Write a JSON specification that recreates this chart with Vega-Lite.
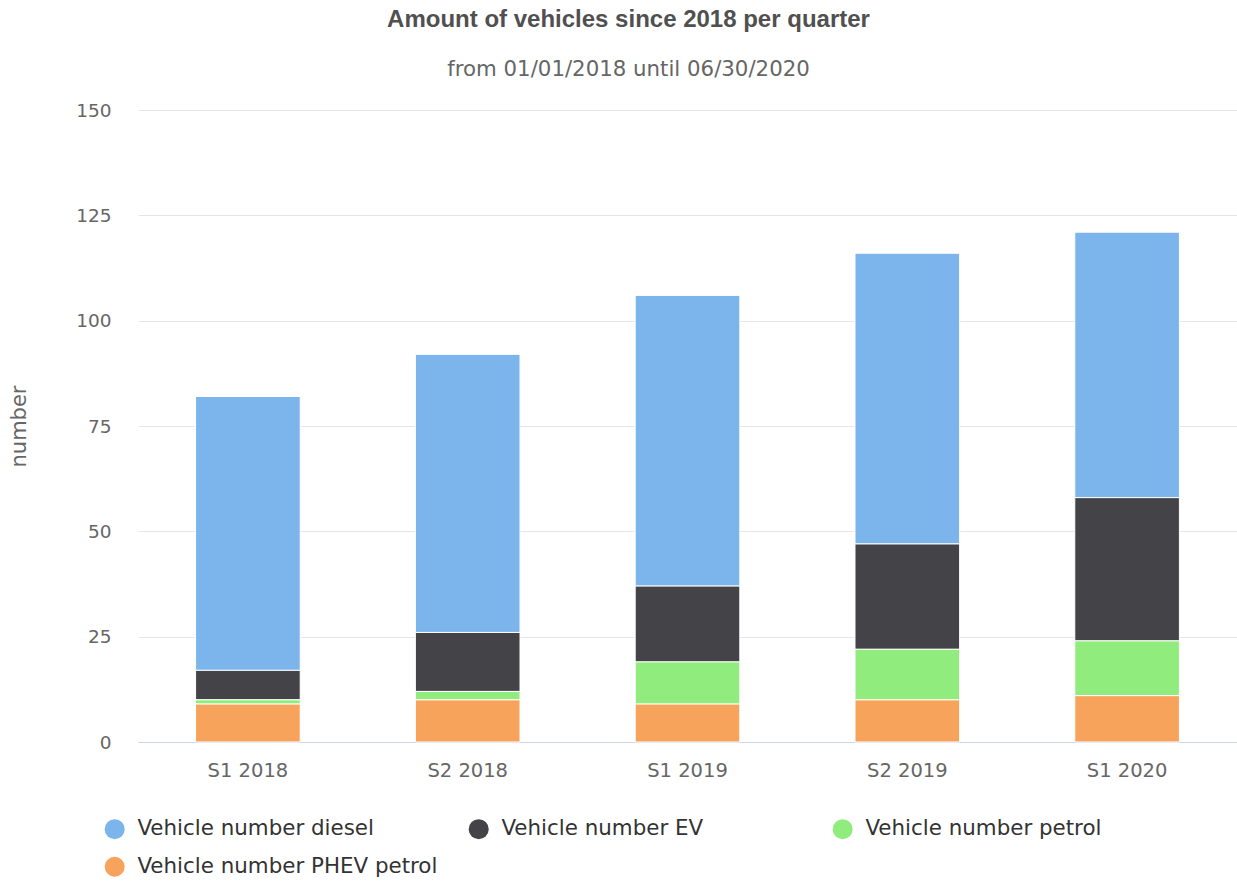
{
  "$schema": "https://vega.github.io/schema/vega-lite/v6.json",
  "width": 1099,
  "height": 632,
  "autosize": "none",
  "padding": {"left": 138, "top": 110, "right": 0, "bottom": 140},
  "background": "white",
  "title": {
    "text": "Amount of vehicles since 2018 per quarter",
    "subtitle": "from 01/01/2018 until 06/30/2020",
    "anchor": "middle",
    "frame": "group",
    "dx": -59,
    "offset": 21,
    "font": "Liberation Sans",
    "fontSize": 24,
    "fontWeight": "bold",
    "color": "#505050",
    "subtitleFont": "DejaVu Sans",
    "subtitleFontSize": 21.3,
    "subtitleColor": "#666666",
    "subtitlePadding": 27
  },
  "data": {
    "values": [
      {"period": "S1 2018", "type": "Vehicle number diesel", "value": 65},
      {"period": "S1 2018", "type": "Vehicle number EV", "value": 7},
      {"period": "S1 2018", "type": "Vehicle number petrol", "value": 1},
      {"period": "S1 2018", "type": "Vehicle number PHEV petrol", "value": 9},
      {"period": "S2 2018", "type": "Vehicle number diesel", "value": 66},
      {"period": "S2 2018", "type": "Vehicle number EV", "value": 14},
      {"period": "S2 2018", "type": "Vehicle number petrol", "value": 2},
      {"period": "S2 2018", "type": "Vehicle number PHEV petrol", "value": 10},
      {"period": "S1 2019", "type": "Vehicle number diesel", "value": 69},
      {"period": "S1 2019", "type": "Vehicle number EV", "value": 18},
      {"period": "S1 2019", "type": "Vehicle number petrol", "value": 10},
      {"period": "S1 2019", "type": "Vehicle number PHEV petrol", "value": 9},
      {"period": "S2 2019", "type": "Vehicle number diesel", "value": 69},
      {"period": "S2 2019", "type": "Vehicle number EV", "value": 25},
      {"period": "S2 2019", "type": "Vehicle number petrol", "value": 12},
      {"period": "S2 2019", "type": "Vehicle number PHEV petrol", "value": 10},
      {"period": "S1 2020", "type": "Vehicle number diesel", "value": 63},
      {"period": "S1 2020", "type": "Vehicle number EV", "value": 34},
      {"period": "S1 2020", "type": "Vehicle number petrol", "value": 13},
      {"period": "S1 2020", "type": "Vehicle number PHEV petrol", "value": 11}
    ]
  },
  "transform": [
    {"calculate": "indexof(['Vehicle number PHEV petrol','Vehicle number petrol','Vehicle number EV','Vehicle number diesel'], datum.type)", "as": "stackOrder"}
  ],
  "mark": {"type": "bar", "stroke": "white", "strokeWidth": 1},
  "encoding": {
    "x": {
      "field": "period",
      "type": "nominal",
      "sort": ["S1 2018", "S2 2018", "S1 2019", "S2 2019", "S1 2020"],
      "scale": {"paddingInner": 0.524, "paddingOuter": 0.262},
      "axis": {
        "title": null,
        "labelAngle": 0,
        "labelFont": "DejaVu Sans",
        "labelFontSize": 19.5,
        "labelColor": "#666666",
        "labelPadding": 19,
        "ticks": false,
        "domainColor": "#ccd6eb",
        "domainWidth": 1,
        "grid": false
      }
    },
    "y": {
      "field": "value",
      "type": "quantitative",
      "stack": "zero",
      "scale": {"domain": [0, 150], "nice": false},
      "axis": {
        "title": "number",
        "titleFont": "DejaVu Sans",
        "titleFontSize": 21,
        "titleFontWeight": "normal",
        "titleColor": "#666666",
        "titlePadding": 46,
        "values": [0, 25, 50, 75, 100, 125, 150],
        "labelFont": "DejaVu Sans",
        "labelFontSize": 18.5,
        "labelColor": "#666666",
        "labelPadding": 27,
        "ticks": false,
        "domain": false,
        "grid": true,
        "gridColor": "#e6e6e6",
        "gridWidth": 1
      }
    },
    "color": {
      "field": "type",
      "type": "nominal",
      "sort": ["Vehicle number diesel", "Vehicle number EV", "Vehicle number petrol", "Vehicle number PHEV petrol"],
      "scale": {
        "domain": ["Vehicle number diesel", "Vehicle number EV", "Vehicle number petrol", "Vehicle number PHEV petrol"],
        "range": ["#7cb5ec", "#434348", "#90ed7d", "#f7a35c"]
      },
      "legend": {
        "title": null,
        "orient": "none",
        "direction": "horizontal",
        "legendX": -34,
        "legendY": 708,
        "columns": 3,
        "gridAlign": "all",
        "columnPadding": 30,
        "rowPadding": 15,
        "symbolType": "circle",
        "symbolSize": 400,
        "symbolStrokeWidth": 0,
        "labelFont": "DejaVu Sans",
        "labelFontSize": 21.4,
        "labelColor": "#333333",
        "labelOffset": 12,
        "labelLimit": 400,
        "values": ["Vehicle number diesel", "Vehicle number EV", "Vehicle number petrol", "Vehicle number PHEV petrol"]
      }
    },
    "order": {"field": "stackOrder", "type": "quantitative", "sort": "ascending"}
  },
  "config": {"view": {"stroke": null}}
}
